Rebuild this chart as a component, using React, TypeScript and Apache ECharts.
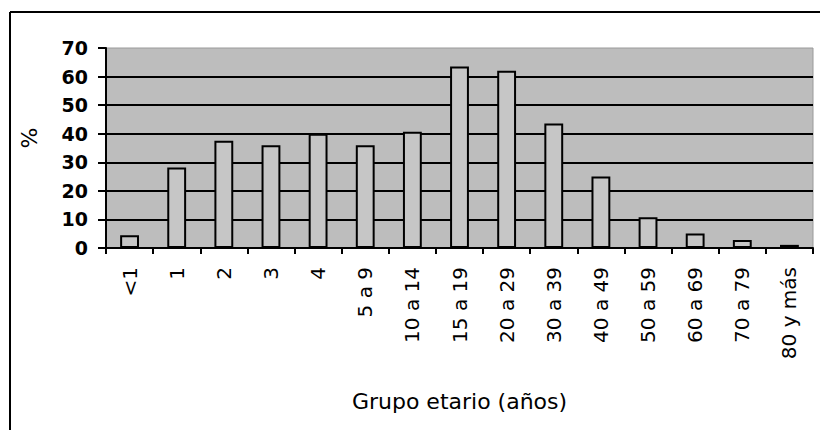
import React, { useEffect, useRef } from "react";
import * as echarts from "echarts";

const categories = ["<1", "1", "2", "3", "4", "5 a 9", "10 a 14", "15 a 19", "20 a 29", "30 a 39", "40 a 49", "50 a 59", "60 a 69", "70 a 79", "80 y más"];
const values = [4.5, 28.2, 37.5, 36, 40, 36, 40.7, 63.5, 62, 43.6, 25, 10.8, 5.1, 2.8, 1.1];
const yTicks = { min: 0, max: 70, interval: 10 };
const xAxisTitle = "Grupo etario (años)";
const yAxisTitle = "%";

const FONT = "'DejaVu Sans', Arial, sans-serif";

export default function App() {
  const ref = useRef<HTMLDivElement>(null);
  useEffect(() => {
    if (!ref.current) return;
    const chart = echarts.init(ref.current, undefined, { renderer: "svg" });
    chart.setOption({
      animation: false,
      backgroundColor: "#ffffff",
      textStyle: { fontFamily: FONT },
      grid: {
        left: 106,
        right: 7,
        top: 48,
        bottom: 182,
        show: true,
        backgroundColor: "#bdbdbd",
        borderColor: "#9a9a9a",
        borderWidth: 1,
      },
      xAxis: {
        type: "category",
        data: categories,
        name: xAxisTitle,
        nameLocation: "middle",
        nameGap: 142,
        nameTextStyle: { fontFamily: FONT, fontSize: 22, color: "#000" },
        axisLine: { lineStyle: { color: "#000", width: 2 } },
        axisTick: { show: true, alignWithLabel: false, length: 6, lineStyle: { color: "#000", width: 2 } },
        axisLabel: { rotate: 90, fontFamily: FONT, fontSize: 20, color: "#000", margin: 19, interval: 0 },
        splitLine: { show: false },
      },
      yAxis: {
        type: "value",
        min: yTicks.min,
        max: yTicks.max,
        interval: yTicks.interval,
        name: yAxisTitle,
        nameLocation: "middle",
        nameRotate: 90,
        nameGap: 66,
        nameTextStyle: { fontFamily: FONT, fontSize: 22, color: "#000", padding: [0, 0, 0, 20] },
        axisLine: { show: true, lineStyle: { color: "#000", width: 2 } },
        axisTick: { show: true, length: 8, lineStyle: { color: "#000", width: 2 } },
        axisLabel: { fontFamily: FONT, fontSize: 19, fontWeight: "bold", color: "#000", margin: 18 },
        splitLine: {
          show: true,
          lineStyle: {
            color: ["#000", "#000", "#000", "#000", "#000", "#000", "#000", "rgba(0,0,0,0)"],
            width: 2,
          },
        },
      },
      series: [
        {
          type: "bar",
          data: values,
          barWidth: "40%",
          itemStyle: { color: "#c6c6c6", borderColor: "#000", borderWidth: 2 },
          z: 3,
        },
      ],
      graphic: [
        { type: "line", shape: { x1: 10, y1: 12, x2: 10, y2: 430 }, style: { stroke: "#000", lineWidth: 2 } },
        { type: "line", shape: { x1: 10, y1: 12, x2: 820, y2: 12 }, style: { stroke: "#000", lineWidth: 2 } },
      ],
    });
    return () => chart.dispose();
  }, []);
  return <div ref={ref} style={{ width: 820, height: 430, position: "absolute", left: 0, top: 0 }} />;
}
